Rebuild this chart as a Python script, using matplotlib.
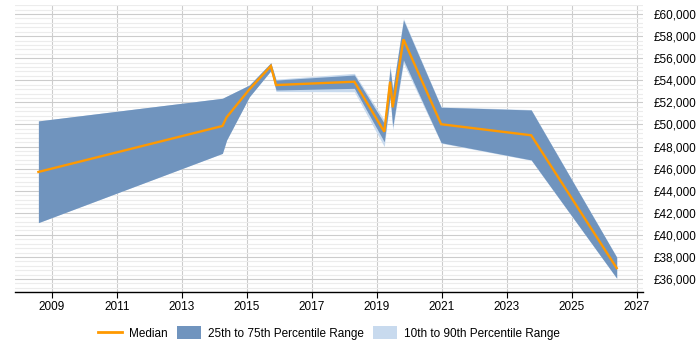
import matplotlib
matplotlib.use("Agg")
import matplotlib.pyplot as plt
from matplotlib.patches import Patch
from matplotlib.lines import Line2D
from matplotlib.ticker import MultipleLocator, FuncFormatter

plt.rcParams['font.family'] = ['Liberation Sans', 'DejaVu Sans']

years = [2008.59, 2014.25, 2014.38, 2015.08, 2015.74, 2015.90, 2018.31,
         2019.23, 2019.41, 2019.49, 2019.82, 2020.98, 2023.75, 2026.38]
median = [45700, 49860, 50650, 53180, 55290, 53570, 53870,
          49340, 53870, 51550, 57710, 50020, 49020, 36990]
p75 = [50320, 52370, 52560, 53570, 55590, 54020, 54480,
       50100, 55080, 53120, 59460, 51560, 51310, 37980]
p25 = [41110, 47380, 48590, 52510, 54870, 53120, 53270,
       48430, 52510, 49800, 55840, 48350, 46790, 36080]
p90 = [50320, 52370, 52560, 53570, 55590, 54100, 54630,
       50400, 55380, 53250, 59610, 51600, 51350, 38000]
p10 = [41110, 47380, 48590, 52510, 54870, 52980, 52960,
       47990, 52300, 49500, 55540, 48300, 46750, 36060]

xticks = [2009, 2011, 2013, 2015, 2017, 2019, 2021, 2023, 2025, 2027]

fig = plt.figure(figsize=(7, 3.5), dpi=100)
ax = fig.add_axes([15/700, 1-292.3/350, (642.7-15)/700, (292.3-5.2)/350])

c_med = '#FF9900'
c_dark = '#7094BE'
c_light = '#C8DAEE'

ax.fill_between(years, p10, p90, color=c_light, lw=0, zorder=2)
ax.fill_between(years, p25, p75, color=c_dark, lw=0, zorder=3)
ax.plot(years, median, color=c_med, lw=1.7, zorder=4, solid_joinstyle='miter')

ax.set_xlim(2007.87, 2027.18)
ax.set_ylim(34800, 60800)
ax.set_xticks(xticks)
ax.set_xticklabels([str(t) for t in xticks])
ax.yaxis.set_major_locator(MultipleLocator(2000))
ax.yaxis.set_minor_locator(MultipleLocator(400))
ax.yaxis.set_major_formatter(FuncFormatter(lambda v, p: '£{:,.0f}'.format(v)))
ax.yaxis.tick_right()

ax.grid(True, which='major', axis='both', color='#cccccc', lw=0.8, zorder=0)
ax.grid(True, which='minor', axis='y', color='#ececec', lw=0.8, zorder=0)
ax.set_axisbelow(True)

for s in ['top', 'left', 'right']:
    ax.spines[s].set_visible(False)
ax.spines['bottom'].set_color('black')
ax.spines['bottom'].set_linewidth(1.0)

ax.tick_params(axis='x', which='major', length=4, color='black', labelsize=8.5, pad=2)
ax.tick_params(axis='y', which='both', length=0, labelsize=8.5, pad=8)

handles = [Line2D([0], [0], color=c_med, lw=2),
           Patch(facecolor=c_dark, edgecolor='none'),
           Patch(facecolor=c_light, edgecolor='none')]
labels = ['Median', '25th to 75th Percentile Range', '10th to 90th Percentile Range']
fig.legend(handles, labels, loc='center', bbox_to_anchor=(0.47, 1-333/350), ncol=3,
           frameon=False, fontsize=8.5, handlelength=2.0, handleheight=1.2,
           columnspacing=0.8, handletextpad=0.6)

fig.savefig('out.png', dpi=100)
